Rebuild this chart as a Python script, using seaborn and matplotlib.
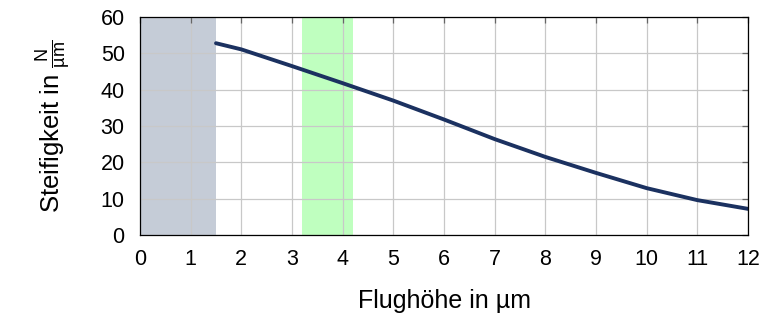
import numpy as np
import pandas as pd
import seaborn as sns
import matplotlib.pyplot as plt

# Flughöhe (µm) vs. Steifigkeit (N/µm)
hoehe = [1.5, 2, 3, 4, 5, 6, 7, 8, 9, 10, 11, 12]
steifigkeit = [52.8, 51.1, 46.5, 41.8, 37.0, 31.8, 26.4, 21.5, 17.1, 12.9, 9.6, 7.2]

# shaded ranges
bereich_grau = (0, 1.5)
bereich_gruen = (3.2, 4.2)

sns.set_theme(style="whitegrid")
plt.rcParams['font.family'] = ['Liberation Sans', 'DejaVu Sans']
plt.rcParams['mathtext.fontset'] = 'custom'
plt.rcParams['mathtext.rm'] = 'Liberation Sans'
plt.rcParams['mathtext.it'] = 'Liberation Sans'

df = pd.DataFrame(dict(x=hoehe, y=steifigkeit))

fig = plt.figure(figsize=(7.8, 3.16), dpi=100)
ax = fig.add_axes([0.1795, 0.2563, 0.7795, 0.6897])

ax.axvspan(*bereich_grau, color='#c5ccd7', lw=0, zorder=0.2)
ax.axvspan(*bereich_gruen, color='#bfffbf', lw=0, zorder=0.2)

sns.lineplot(data=df, x='x', y='y', ax=ax, color='#1b3160', lw=2.8)

ax.set_xlim(0, 12)
ax.set_ylim(0, 60)
ax.set_xticks(range(0, 13))
ax.set_yticks(range(0, 61, 10))
ax.grid(True, color='#c8c8c8', lw=0.9)
ax.set_axisbelow(True)
for s in ax.spines.values():
    s.set_color('black')
    s.set_linewidth(0.9)
ax.tick_params(direction='in', length=4, width=0.9, color='#666666',
               top=True, right=True, labelsize=15.5, labelcolor='black')
ax.tick_params(axis='x', pad=10)
ax.tick_params(axis='y', pad=11)

ax.set_xlabel('Flughöhe in µm', fontsize=18, labelpad=14, color='black')
ax.set_ylabel(r'Steifigkeit in $\frac{\mathrm{N}}{\mathrm{µm}}$', fontsize=18.5,
              labelpad=20, color='black')

fig.savefig('out.png', dpi=100)
